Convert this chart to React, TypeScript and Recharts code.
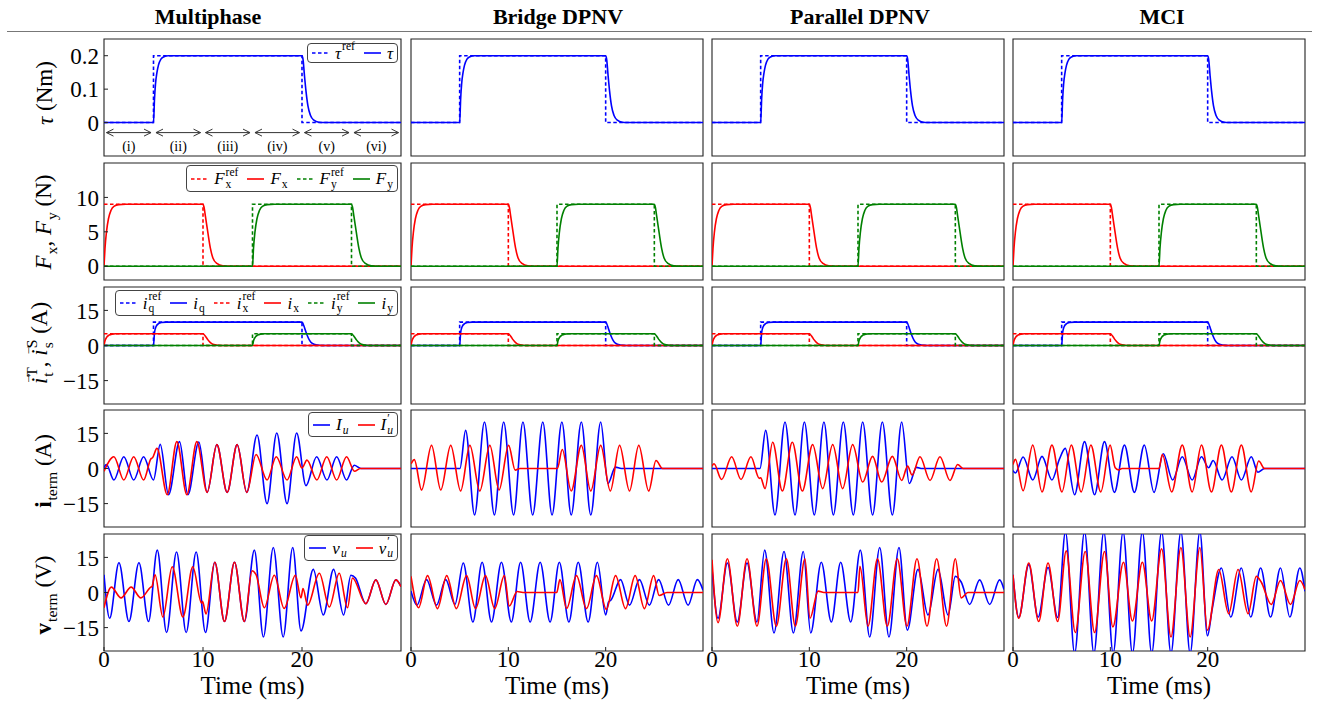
import React from "react";
import { LineChart, Line, XAxis, YAxis, ReferenceArea, ReferenceLine } from "recharts";

const FONT = '"Liberation Serif", "Times New Roman", serif';
const BLUE = "#0000ff";
const RED = "#ff0000";
const GREEN = "#008000";
const FRAME = "#222";

type Pair = [number, number];

// time axis (ms)
const timeTicks = [0, 10, 20];
const columnTitles = ["Multiphase", "Bridge DPNV", "Parallel DPNV", "MCI"];

// torque (Nm)
const tauRef: Pair[] = [[0, 0], [5, 0], [5, 0.2], [20, 0.2], [20, 0], [30, 0]];
const tau: Pair[] = [[0, 0], [5, 0], [5.1, 0.07], [5.2, 0.115], [5.35, 0.15], [5.5, 0.172], [5.75, 0.19], [6, 0.196], [6.5, 0.2], [20, 0.2], [20.1, 0.19], [20.25, 0.14], [20.4, 0.095], [20.6, 0.05], [20.85, 0.022], [21.2, 0.007], [21.7, 0.001], [22.2, 0], [30, 0]];

// forces (N)
const fxRef: Pair[] = [[0, 9], [10, 9], [10, 0], [30, 0]];
const fx: Pair[] = [[0, 0], [0.1, 2.6], [0.25, 5], [0.45, 6.9], [0.7, 8.1], [1, 8.7], [1.5, 8.95], [2.2, 9], [10, 9], [10.1, 8.6], [10.25, 7.2], [10.5, 4.8], [10.75, 2.6], [11, 1.2], [11.4, 0.4], [12, 0.05], [12.6, 0], [30, 0]];
const fyRef: Pair[] = [[0, 0], [15, 0], [15, 9], [25, 9], [25, 0], [30, 0]];
const fy: Pair[] = [[0, 0], [15, 0], [15.1, 2.6], [15.25, 5], [15.45, 6.9], [15.7, 8.1], [16, 8.7], [16.5, 8.95], [17.2, 9], [25, 9], [25.1, 8.6], [25.25, 7.2], [25.5, 4.8], [25.75, 2.6], [26, 1.2], [26.4, 0.4], [27, 0.05], [27.6, 0], [30, 0]];

// current references (A)
const iqRef: Pair[] = [[0, 0], [5, 0], [5, 10], [20, 10], [20, 0], [30, 0]];
const iq: Pair[] = [[0, 0], [5, 0], [5.1, 5.5], [5.25, 8], [5.5, 9.3], [5.8, 9.8], [6.3, 10], [20, 10], [20.1, 9.4], [20.3, 7], [20.5, 4.6], [20.75, 2.3], [21, 1], [21.5, 0.2], [22, 0], [30, 0]];
const ixRef: Pair[] = [[0, 5], [10, 5], [10, 0], [30, 0]];
const ix: Pair[] = [[0, 0], [0.1, 2], [0.25, 3.4], [0.5, 4.4], [0.8, 4.85], [1.2, 5], [10, 5], [10.1, 4.7], [10.3, 3.6], [10.5, 2.4], [10.75, 1.2], [11, 0.5], [11.5, 0.1], [12, 0], [30, 0]];
const iyRef: Pair[] = [[0, 0], [15, 0], [15, 5], [25, 5], [25, 0], [30, 0]];
const iy: Pair[] = [[0, 0], [15, 0], [15.1, 2], [15.25, 3.4], [15.5, 4.4], [15.8, 4.85], [16.2, 5], [25, 5], [25.1, 4.7], [25.3, 3.6], [25.5, 2.4], [25.75, 1.2], [26, 0.5], [26.5, 0.1], [27, 0], [30, 0]];

// terminal currents (A): peaks / troughs
const iuMulti: Pair[] = [[0, 0.3], [0.24, 1.7], [1, -4.9], [2, 5], [3, -4.9], [4, 5], [5, -4.9], [5.68, 10.3], [6.52, -11.2], [7.63, 11.5], [8.47, -11.2], [9.58, 11.3], [10.42, -10.2], [11.4, 10.2], [12.44, -10.2], [13.45, 10.2], [14.42, -10.2], [15.46, 14.3], [16.47, -15], [17.45, 15.2], [18.49, -15], [19.46, 15.2], [20.4, -7.3], [21.48, 5], [22.52, -4.9], [23.5, 5], [24.5, -4.9], [25.28, 1.4], [25.95, 0], [30, 0]];
const iupMulti: Pair[] = [[0, -1.2], [1, 5], [2, -4.9], [3, 5], [4, -4.9], [4.75, 4.2], [4.9, 4.6], [5.35, 8.6], [6.39, -11.2], [7.36, 11.5], [8.37, -11.2], [9.38, 11.5], [10.42, -10.2], [11.4, 10.2], [12.44, -10.2], [13.45, 10.2], [14.42, -10.2], [15.36, 6], [16.47, -4.9], [17.4, 5], [18.49, -4.9], [19.46, 5], [20, 0.2], [20.5, 3.6], [21.5, -4.9], [22.5, 5], [23.5, -4.9], [24.5, 5], [25.3, -1.2], [25.9, 0], [30, 0]];
const iuBridge: Pair[] = [[0, 0], [5.03, 0], [5.61, 16.3], [6.53, -19.8], [7.55, 19.9], [8.57, -19.8], [9.52, 19.9], [10.54, -19.8], [11.5, 19.9], [12.5, -19.8], [13.54, 19.9], [14.49, -19.8], [15.5, 19.9], [16.46, -19.8], [17.5, 19.9], [18.47, -19.8], [19.49, 19.9], [20.24, -6.4], [21, 0.6], [21.6, 0], [30, 0]];
const iupBridge: Pair[] = [[0, 2], [0.34, 3.8], [1.09, -9.2], [2.11, 9.9], [3.06, -9.2], [4.08, 9.9], [5.1, -9.6], [6.05, 9.9], [7.07, -9.6], [8.1, 9.9], [9.05, -9.2], [10.03, 9.9], [10.7, -0.7], [11.2, 0], [15.03, 0], [15.54, 8.1], [16.46, -9.6], [17.5, 9.9], [18.47, -9.6], [19.49, 9.9], [20.48, -9.6], [21.43, 9.9], [22.45, -9.6], [23.4, 9.9], [24.42, -9.6], [25.17, 3.4], [25.85, 0], [30, 0]];
const iuParallel: Pair[] = [[0, 0], [4.93, 0], [5.51, 16.3], [6.47, -19.8], [7.5, 19.9], [8.53, -19.8], [9.49, 19.9], [10.51, -19.8], [11.5, 19.9], [12.47, -19.8], [13.49, 19.9], [14.52, -19.8], [15.48, 19.9], [16.5, -19.8], [17.5, 19.9], [18.53, -19.8], [19.49, 19.9], [20.27, -6.4], [21, 0.5], [21.6, 0], [30, 0]];
const iupParallel: Pair[] = [[0, 1], [0.2, 2], [0.99, -4.7], [2.02, 5], [2.98, -4.7], [4, 5], [4.85, -4.2], [5, -4], [5.45, -8.6], [6.23, 11.2], [7.23, -9.6], [8.25, 11.2], [9.28, -9.6], [10.34, 10.2], [11.37, -8.6], [12.4, 10.2], [13.42, -8.6], [14.45, 10.2], [15.48, -5.8], [16.5, 5.2], [17.43, -5.8], [18.53, 5.2], [19.49, -5.1], [20.1, 1], [20.55, -2.8], [21.37, 5], [22.4, -5.1], [23.42, 5], [24.45, -5.1], [25.24, 1.7], [25.8, 0], [30, 0]];
const iuMci: Pair[] = [[0, -0.9], [0.25, -1.9], [1.04, 4.9], [2.03, -4.9], [2.98, 5.2], [4, -4.9], [4.76, 3.9], [5.37, 8.6], [6.33, -11.2], [7.35, 11.5], [8.38, -11.2], [9.4, 11.5], [10.42, -10.2], [11.45, 10], [12.47, -10.2], [13.49, 10], [14.49, -10.2], [15.44, 6.3], [16.4, -4.9], [17.39, 5], [18.41, -4.9], [19.36, 5], [20.1, 0.3], [20.56, 3.4], [21.48, -4.9], [22.5, 5], [23.46, -4.9], [24.48, 5], [25.16, -1.6], [25.85, 0], [30, 0]];
const iupMci: Pair[] = [[0, 1.7], [0.25, 3.9], [1.04, -9.5], [2.03, 10], [2.98, -10], [4, 10], [5.03, -10], [5.99, 10], [7.01, -10], [8, 10], [9.02, -10], [9.98, 10], [10.5, 0.3], [10.83, -0.6], [11.2, 0], [15, 0], [15.34, 6], [16.3, -10], [17.39, 10], [18.41, -10], [19.36, 10], [20.39, -10], [21.41, 10], [22.43, -10], [23.46, 10], [24.48, -10], [25.24, 3.2], [25.85, 0], [30, 0]];

// terminal voltages (V)
const vuMulti: Pair[] = [[0, 7.6], [0.57, -11], [1.51, 12.7], [2.52, -12.4], [3.53, 12.7], [4.5, -12.4], [5.38, 18.1], [6.32, -17.1], [7.33, 17.3], [8.3, -17.1], [9.31, 17.3], [10.25, -17.1], [11.19, 12.9], [12.17, -12.4], [13.18, 12.9], [14.18, -12.4], [15.19, 18.1], [16.1, -19], [17.1, 19.2], [18.1, -19], [19.06, 19.2], [19.9, -16.4], [21.14, 9.9], [22.15, -9.6], [23.19, 9.9], [24.2, -9.6], [24.94, 7.4], [25.4, 6.2], [26.45, -4.8], [27.46, 5.4], [28.47, -5.1], [29.48, 5.4], [30, 2.5]];
const vupMulti: Pair[] = [[0, -6.5], [0.74, 2.3], [1.72, -2.3], [2.74, 2.3], [3.72, -2.3], [4.7, 2.2], [4.85, 2.6], [5.15, 7.6], [5.95, -10.5], [6.89, 11], [7.97, -10.5], [8.97, 11], [9.85, -4.5], [9.95, -3.8], [10.3, -9.2], [11.19, 12.9], [12.17, -12.4], [13.18, 12.9], [14.18, -12.4], [14.96, 9.3], [15.36, 7.6], [16.2, -6.5], [17.2, 7.4], [18.2, -6.8], [19.33, 7.4], [19.9, -2.3], [20.1, 1.7], [20.57, -5.4], [21.75, 8.2], [22.76, -6.2], [23.76, 8.2], [24.6, -6.5], [25.1, 6.2], [26.45, -4.8], [27.46, 5.4], [28.47, -5.1], [29.48, 5.4], [30, 2.5]];
const vuBridge: Pair[] = [[0, 0.6], [0.61, -5.4], [1.6, 5.5], [2.62, -5.4], [3.57, 5.5], [4.52, -5.1], [5.37, 12.6], [6.36, -12.6], [7.31, 12.9], [8.27, -12.6], [9.29, 12.9], [10.31, -12.6], [11.26, 12.9], [12.24, -12.6], [13.27, 12.9], [14.29, -12.6], [15.24, 12.9], [16.22, -12.6], [17.18, 12.9], [18.2, -12.6], [19.15, 12.9], [20, -9.6], [20.3, -4], [20.55, -3.2], [21.53, 5.5], [22.45, -5.4], [23.47, 5.5], [24.49, -5.4], [25.44, 5.5], [26.46, -5.4], [27.45, 5.5], [28.47, -5.4], [29.42, 5.5], [30, 1]];
const vupBridge: Pair[] = [[0, 6.9], [0.78, -6.5], [1.7, 7.2], [2.72, -6.9], [3.67, 7.2], [4.66, -6.9], [5.71, 7.2], [6.63, -6.9], [7.65, 7.2], [8.6, -6.9], [9.59, 7.2], [10.1, -5.8], [10.9, 0.4], [11.5, 0], [14.97, 0], [15.3, 5.5], [15.99, -6.8], [17, 7.2], [18.03, -6.9], [19.05, 7.2], [20.07, -7.2], [21.02, 7.2], [22.04, -6.9], [23.03, 7.2], [23.98, -6.9], [24.93, 7.2], [25.5, -1.3], [26.3, 0], [30, 0]];
const vuParallel: Pair[] = [[0, 10], [0.62, -11], [1.58, 12.6], [2.6, -12.6], [3.6, 12.6], [4.62, -12.6], [5.41, 18.1], [6.37, -17.3], [7.4, 17.5], [8.36, -17.3], [9.38, 17.5], [10.14, -17.3], [11.23, 12.9], [12.26, -12.6], [13.22, 12.9], [14.25, -12.6], [15.24, 18.1], [16.2, -19], [17.23, 19.2], [18.18, -19], [19.21, 19.2], [20.07, -16.1], [21.16, 9.9], [22.19, -9.6], [23.22, 9.9], [24.25, -9.6], [25, 6.9], [25.6, 4.5], [26.47, -5.1], [27.5, 5.4], [28.53, -5.1], [29.55, 5.4], [30, 1.3]];
const vupParallel: Pair[] = [[0, 14], [0.62, -12.9], [1.58, 14.4], [2.6, -14.4], [3.6, 14.4], [4.62, -14.4], [5.58, 14.4], [6.61, -14.4], [7.64, 14.4], [8.56, -14.4], [9.55, 14.4], [10.07, -11], [10.9, 0.6], [11.5, 0], [15, 0], [15.2, 11.2], [16.03, -14.4], [17, 14.4], [18.01, -14.4], [19.04, 14.4], [20.03, -14.4], [21.06, 14.4], [22.09, -14.4], [23.08, 14.4], [24.1, -14.4], [25, 14.4], [25.6, -2.3], [26.3, 0], [30, 0]];
const vuMci: Pair[] = [[0, 7.6], [0.59, -10.7], [1.62, 11.9], [2.58, -10.5], [3.6, 10.7], [4.59, -10.7], [5.39, 26], [6.33, -26], [7.35, 26], [8.31, -26], [9.33, 26], [10.29, -26], [11.31, 26], [12.27, -26], [13.29, 26], [14.25, -26], [15.27, 26], [16.23, -26], [17.25, 26], [18.2, -26], [19.2, 26], [19.98, -18.5], [20.46, -7.2], [21.41, 10.5], [22.37, -10.5], [23.46, 10.5], [24.42, -10.5], [25.44, 10.5], [26.46, -10.5], [27.48, 10.5], [28.44, -10.5], [29.47, 10.5], [30, 0.5]];
const vupMci: Pair[] = [[0, 7.6], [0.59, -11], [1.62, 12.6], [2.64, -12.4], [3.6, 12.6], [4.59, -12.4], [5.47, 17.8], [6.4, -17.1], [7.42, 17.5], [8.38, -17.1], [9.4, 17.5], [10.26, -14.7], [11.35, 12.9], [12.27, -12.2], [13.29, 12.9], [14.25, -12.2], [15.27, 18.7], [16.23, -19], [17.25, 19.2], [18.2, -19], [19.2, 19.2], [19.98, -16.1], [21.14, 9.8], [22.16, -9.1], [23.12, 9.8], [24.15, -9.1], [25, 6.9], [25.5, 4.5], [26.53, -5.1], [27.48, 5.1], [28.51, -5.1], [29.47, 5.1], [30, 1.3]];

const iuByCol = [iuMulti, iuBridge, iuParallel, iuMci];
const iupByCol = [iupMulti, iupBridge, iupParallel, iupMci];
const vuByCol = [vuMulti, vuBridge, vuParallel, vuMci];
const vupByCol = [vupMulti, vupBridge, vupParallel, vupMci];

// operating intervals marked on the first torque plot
const phaseLabels = ["(i)", "(ii)", "(iii)", "(iv)", "(v)", "(vi)"];
const phaseStarts = [0, 5, 10, 15, 20, 25];

const toPts = (a: Pair[]) => a.map(([t, v]) => ({ t, v }));
const minus = (v: number) => (v < 0 ? "\u2212" + Math.abs(v) : String(v));

type Series = { data: Pair[]; color: string; dashed?: boolean };
type RowSpec = { domain: [number, number]; ticks: number[]; fmt: (v: number) => string; series: (c: number) => Series[] };

const ROWS: RowSpec[] = [
  {
    domain: [-0.1, 0.25],
    ticks: [0, 0.1, 0.2],
    fmt: (v) => (v === 0 ? "0" : v.toFixed(1)),
    series: () => [
      { data: tauRef, color: BLUE, dashed: true },
      { data: tau, color: BLUE },
    ],
  },
  {
    domain: [-2, 15],
    ticks: [0, 5, 10],
    fmt: minus,
    series: () => [
      { data: fxRef, color: RED, dashed: true },
      { data: fx, color: RED },
      { data: fyRef, color: GREEN, dashed: true },
      { data: fy, color: GREEN },
    ],
  },
  {
    domain: [-25, 25],
    ticks: [-15, 0, 15],
    fmt: minus,
    series: () => [
      { data: iqRef, color: BLUE, dashed: true },
      { data: iq, color: BLUE },
      { data: ixRef, color: RED, dashed: true },
      { data: ix, color: RED },
      { data: iyRef, color: GREEN, dashed: true },
      { data: iy, color: GREEN },
    ],
  },
  {
    domain: [-25, 25],
    ticks: [-15, 0, 15],
    fmt: minus,
    series: (c) => [
      { data: iuByCol[c], color: BLUE },
      { data: iupByCol[c], color: RED },
    ],
  },
  {
    domain: [-25, 25],
    ticks: [-15, 0, 15],
    fmt: minus,
    series: (c) => [
      { data: vuByCol[c], color: BLUE },
      { data: vupByCol[c], color: RED },
    ],
  },
];

// layout (px)
const COL_LEFT = [104, 411, 712, 1013];
const COL_W = [297, 292, 292, 292];
const TITLE_X = [208, 558, 860, 1162];
const ROW_TOP = [39, 163, 287, 410, 534];
const ROW_H = 117;
const PAD = 8;

const tickStyle = { fontSize: 23, fill: "#000", fontFamily: FONT };

function M({ b, sub, sup, subIt, bold }: { b: React.ReactNode; sub?: string; sup?: string; subIt?: boolean; bold?: boolean }) {
  return (
    <span style={{ display: "inline-flex", alignItems: "center", whiteSpace: "nowrap" }}>
      <span style={{ fontStyle: bold ? "normal" : "italic", fontWeight: bold ? "bold" : "normal", lineHeight: 1 }}>{b}</span>
      {(sub || sup) && (
        <span style={{ display: "inline-flex", flexDirection: "column", fontSize: "0.68em", lineHeight: 1, marginLeft: 1 }}>
          <span style={{ visibility: sup ? "visible" : "hidden" }}>{sup || "x"}</span>
          <span style={{ visibility: sub ? "visible" : "hidden", fontStyle: subIt ? "italic" : "normal" }}>{sub || "x"}</span>
        </span>
      )}
    </span>
  );
}

const vecI = (
  <span style={{ position: "relative", display: "inline-block" }}>
    i
    <span style={{ position: "absolute", left: "-0.05em", top: "-0.62em", fontSize: "0.6em", fontStyle: "normal" }}>→</span>
  </span>
);

const Y_TITLES = [
  { x: 45, y: 93, node: <><M b="τ" />&nbsp;(Nm)</> },
  { x: 44, y: 222, node: <><M b="F" sub="x" />,&nbsp;<M b="F" sub="y" />&nbsp;(N)</> },
  { x: 40, y: 343, node: <><M b={vecI} sub="t" sup="T" />,&nbsp;<M b={vecI} sub="s" sup="S" />&nbsp;(A)</> },
  { x: 44, y: 471, node: <><M b="i" sub="term" bold />&nbsp;(A)</> },
  { x: 44, y: 595, node: <><M b="v" sub="term" bold />&nbsp;(V)</> },
];

type LegItem = { color: string; dashed?: boolean; label: React.ReactNode };
const LEGENDS: { top: number; height: number; items: LegItem[] }[] = [
  { top: 43, height: 20, items: [
    { color: BLUE, dashed: true, label: <M b="τ" sup="ref" /> },
    { color: BLUE, label: <M b="τ" /> },
  ] },
  { top: 165, height: 27, items: [
    { color: RED, dashed: true, label: <M b="F" sub="x" sup="ref" /> },
    { color: RED, label: <M b="F" sub="x" /> },
    { color: GREEN, dashed: true, label: <M b="F" sub="y" sup="ref" /> },
    { color: GREEN, label: <M b="F" sub="y" /> },
  ] },
  { top: 290, height: 26, items: [
    { color: BLUE, dashed: true, label: <M b="i" sub="q" sup="ref" /> },
    { color: BLUE, label: <M b="i" sub="q" /> },
    { color: RED, dashed: true, label: <M b="i" sub="x" sup="ref" /> },
    { color: RED, label: <M b="i" sub="x" /> },
    { color: GREEN, dashed: true, label: <M b="i" sub="y" sup="ref" /> },
    { color: GREEN, label: <M b="i" sub="y" /> },
  ] },
  { top: 412, height: 25, items: [
    { color: BLUE, label: <M b="I" sub="u" subIt /> },
    { color: RED, label: <M b="I" sub="u" sup="′" subIt /> },
  ] },
  { top: 535, height: 26, items: [
    { color: BLUE, label: <M b="v" sub="u" subIt /> },
    { color: RED, label: <M b="v" sub="u" sup="′" subIt /> },
  ] },
];

function LegendBox({ top, height, items }: { top: number; height: number; items: LegItem[] }) {
  return (
    <div
      style={{
        position: "absolute", right: 1319 - 398, top, height, boxSizing: "border-box",
        display: "flex", alignItems: "center", gap: 9, padding: "0 4px",
        border: "1px solid #444", borderRadius: 4, background: "rgba(255,255,255,0.9)", fontSize: 17,
      }}
    >
      {items.map((it, i) => (
        <span key={i} style={{ display: "flex", alignItems: "center", gap: 6 }}>
          <svg width={17} height={4}>
            <line x1={0} y1={2} x2={17} y2={2} stroke={it.color} strokeWidth={1.6} strokeDasharray={it.dashed ? "3.5 2.5" : undefined} />
          </svg>
          {it.label}
        </span>
      ))}
    </div>
  );
}

const arrowShape = (label: string) => (p: any) => {
  const { x1, y1, x2, y2 } = p;
  const h = 7;
  const w = 3.5;
  return (
    <g>
      <line x1={x1} y1={y1} x2={x2} y2={y2} stroke="#333" strokeWidth={1} />
      <polyline points={`${x1 + h},${y1 - w} ${x1},${y1} ${x1 + h},${y1 + w}`} fill="none" stroke="#333" strokeWidth={1} />
      <polyline points={`${x2 - h},${y2 - w} ${x2},${y2} ${x2 - h},${y2 + w}`} fill="none" stroke="#333" strokeWidth={1} />
      <text x={(x1 + x2) / 2} y={y1 + 18} textAnchor="middle" fontSize={14} fontFamily={FONT} fill="#000">{label}</text>
    </g>
  );
};

function Panel({ row, col }: { row: number; col: number }) {
  const spec = ROWS[row];
  const first = col === 0;
  const last = row === ROWS.length - 1;
  const yW = first ? 62 : 0;
  const xH = last ? 54 : 0;
  const w = PAD + yW + COL_W[col] + PAD;
  const h = 1 + ROW_H + xH + 1;
  return (
    <div style={{ position: "absolute", left: COL_LEFT[col] - yW - PAD, top: ROW_TOP[row] - 1 }}>
      <LineChart width={w} height={h} margin={{ top: 1, right: PAD, bottom: 1, left: PAD }}>
        <XAxis
          type="number" dataKey="t" domain={[0, 30]} ticks={timeTicks} interval={0} allowDataOverflow
          height={xH} axisLine={false} tickSize={-4} tickLine={{ stroke: FRAME }}
          tick={last ? tickStyle : false} tickMargin={4}
          label={last ? { value: "Time (ms)", position: "insideBottom", offset: 11, fontSize: 25, fill: "#000", fontFamily: FONT } : undefined}
        />
        <YAxis
          type="number" domain={spec.domain} ticks={spec.ticks} interval={0} allowDataOverflow
          width={yW} axisLine={false} tickSize={-4} tickLine={{ stroke: FRAME }}
          tick={first ? tickStyle : false} tickMargin={9} tickFormatter={spec.fmt}
        />
        {spec.series(col).map((s, i) => (
          <Line
            key={i}
            data={toPts(s.data)}
            dataKey="v"
            type={s.dashed ? "linear" : "monotone"}
            stroke={s.color}
            strokeWidth={1.6}
            strokeDasharray={s.dashed ? "3.5 2.5" : undefined}
            dot={false}
            activeDot={false}
            isAnimationActive={false}
          />
        ))}
        <ReferenceArea x1={0} x2={30} y1={spec.domain[0]} y2={spec.domain[1]} fill="none" fillOpacity={0} stroke={FRAME} strokeWidth={1.1} ifOverflow="visible" />
        {row === 0 && first &&
          phaseStarts.map((s, i) => (
            <ReferenceLine
              key={"a" + i}
              segment={[{ x: s + 0.25, y: -0.03 }, { x: s + 4.75, y: -0.03 }]}
              ifOverflow="visible"
              shape={arrowShape(phaseLabels[i])}
            />
          ))}
      </LineChart>
    </div>
  );
}

export default function App() {
  return (
    <div style={{ position: "absolute", left: 0, top: 0, width: 1319, height: 707, background: "#fff", fontFamily: FONT, overflow: "hidden" }}>
      {columnTitles.map((t, i) => (
        <div key={t} style={{ position: "absolute", left: TITLE_X[i], top: 17, transform: "translate(-50%,-50%)", fontWeight: "bold", fontSize: 22, whiteSpace: "nowrap" }}>
          {t}
        </div>
      ))}
      <div style={{ position: "absolute", left: 7, top: 31, width: 1305, height: 1, background: "#777" }} />
      {ROWS.map((_, r) => columnTitles.map((_, c) => <Panel key={r + "-" + c} row={r} col={c} />))}
      {Y_TITLES.map((t, i) => (
        <div key={i} style={{ position: "absolute", left: t.x, top: t.y, transform: "translate(-50%,-50%) rotate(-90deg)", fontSize: 23, whiteSpace: "nowrap", display: "flex", alignItems: "center" }}>
          {t.node}
        </div>
      ))}
      {LEGENDS.map((l, i) => (
        <LegendBox key={i} {...l} />
      ))}
    </div>
  );
}
